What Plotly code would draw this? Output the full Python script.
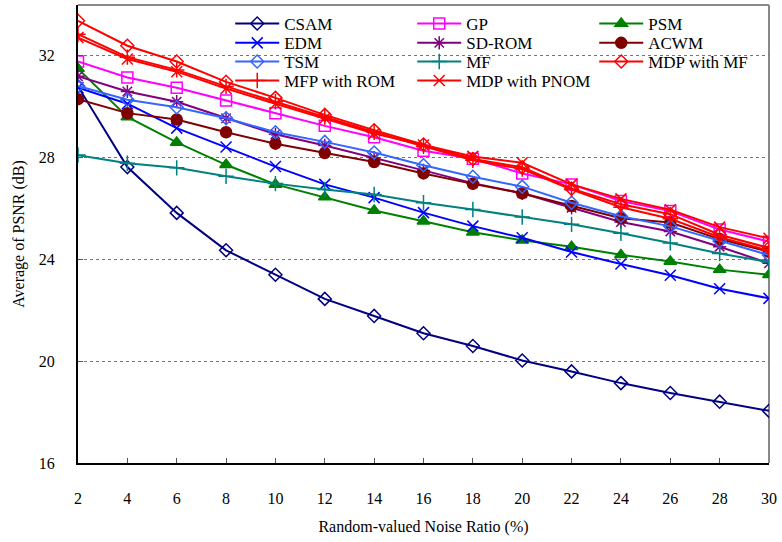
import plotly.graph_objects as go

noise_ratio = [2, 4, 6, 8, 10, 12, 14, 16, 18, 20, 22, 24, 26, 28, 30]

csam = [30.80, 27.63, 25.83, 24.36, 23.40, 22.45, 21.78, 21.10, 20.60, 20.03, 19.60, 19.14, 18.75, 18.41, 18.05]
edm = [30.75, 30.12, 29.16, 28.42, 27.65, 26.95, 26.43, 25.84, 25.31, 24.85, 24.29, 23.82, 23.38, 22.85, 22.47]
tsm = [30.82, 30.28, 29.98, 29.55, 29.00, 28.62, 28.20, 27.70, 27.25, 26.86, 26.23, 25.70, 25.30, 24.72, 24.17]
mfp_rom = [32.85, 31.95, 31.45, 30.80, 30.20, 29.60, 29.00, 28.45, 27.90, 27.55, 26.75, 26.05, 25.60, 24.87, 24.35]
gp = [31.78, 31.15, 30.75, 30.25, 29.75, 29.25, 28.80, 28.27, 27.96, 27.38, 26.95, 26.30, 25.90, 25.18, 24.70]
sd_rom = [31.20, 30.60, 30.20, 29.55, 28.92, 28.48, 28.00, 27.50, 27.00, 26.60, 26.03, 25.47, 25.10, 24.50, 23.85]
mf = [28.10, 27.78, 27.60, 27.27, 26.98, 26.75, 26.55, 26.23, 25.96, 25.67, 25.38, 25.03, 24.65, 24.23, 23.90]
mdp_pnom = [32.72, 31.88, 31.38, 30.72, 30.12, 29.55, 28.95, 28.50, 28.05, 27.80, 26.95, 26.38, 25.95, 25.27, 24.83]
psm = [31.50, 29.60, 28.60, 27.72, 26.95, 26.45, 25.92, 25.50, 25.07, 24.75, 24.50, 24.18, 23.92, 23.60, 23.40]
acwm = [30.30, 29.75, 29.50, 29.00, 28.55, 28.18, 27.83, 27.38, 26.97, 26.60, 26.10, 25.62, 25.45, 24.80, 24.30]
mdp_mf = [33.38, 32.40, 31.78, 30.98, 30.35, 29.68, 29.08, 28.52, 27.95, 27.62, 26.78, 26.17, 25.78, 24.97, 24.45]

y_ticks = [16, 20, 24, 28, 32]

# (name, values, colour, marker symbol, marker size, legend row)
series = [
    ("CSAM", csam, "#000080", "diamond-open", 10, "legend"),
    ("GP", gp, "#FF00FF", "square-open", 11, "legend"),
    ("PSM", psm, "#008000", "triangle-up", 11, "legend"),
    ("EDM", edm, "#0000FF", "x-thin-open", 11, "legend2"),
    ("SD-ROM", sd_rom, "#800080", "asterisk-open", 11, "legend2"),
    ("ACWM", acwm, "#800000", "circle", 11, "legend2"),
    ("TSM", tsm, "#3366FF", "diamond-open", 10, "legend3"),
    ("MF", mf, "#008080", "cross-thin-open", 11, "legend3"),
    ("MDP with MF", mdp_mf, "#FF0000", "diamond-open", 10, "legend3"),
    ("MFP with ROM", mfp_rom, "#FF0000", "cross-thin-open", 11, "legend4"),
    ("MDP with PNOM", mdp_pnom, "#FF0000", "x-thin-open", 11, "legend4"),
]

fig = go.Figure()
for name, vals, color, symbol, size, leg in series:
    fig.add_trace(go.Scatter(
        x=noise_ratio, y=vals, name=name, mode="lines+markers",
        line=dict(color=color, width=2),
        marker=dict(symbol=symbol, size=size, color=color,
                    line=dict(color=color, width=1.5)),
        legend=leg,
    ))

font_family = "Liberation Serif"

# plot area spans 5 px .. 463 px vertically; each legend row is one horizontal legend
plot_top, plot_h = 5, 458
row_centres = [24, 43.3, 62, 81]


def row_legend(yc):
    return dict(
        orientation="h", x=0.2203, y=1 - (yc - plot_top) / plot_h,
        xanchor="left", yanchor="middle",
        entrywidth=123, entrywidthmode="pixels", itemwidth=44,
        bgcolor="rgba(0,0,0,0)", font=dict(family=font_family, size=17),
        traceorder="normal",
    )


fig.update_layout(
    width=782, height=542,
    margin=dict(l=78, r=11, t=5, b=79),
    paper_bgcolor="white", plot_bgcolor="white",
    font=dict(family=font_family, size=16, color="black"),
    showlegend=True,
    legend=row_legend(row_centres[0]),
    legend2=row_legend(row_centres[1]),
    legend3=row_legend(row_centres[2]),
    legend4=row_legend(row_centres[3]),
    xaxis=dict(
        range=[2, 30], tickmode="array", tickvals=noise_ratio,
        ticks="inside", ticklen=5, tickcolor="#555555",
        ticklabelstandoff=20,
        showgrid=False, zeroline=False,
        showline=True, linecolor="black", linewidth=2,
        title=dict(text="Random-valued Noise Ratio (%)", standoff=15,
                   font=dict(family=font_family, size=16)),
        tickfont=dict(family=font_family, size=16),
    ),
    yaxis=dict(
        range=[16, 34], tickmode="array", tickvals=y_ticks,
        ticks="inside", ticklen=5, tickcolor="#555555",
        ticklabelstandoff=18,
        showgrid=True, gridcolor="#777777", gridwidth=1, griddash="dot",
        zeroline=False,
        showline=True, linecolor="black", linewidth=2,
        title=dict(text="Average of PSNR (dB)", standoff=10,
                   font=dict(family=font_family, size=16)),
        tickfont=dict(family=font_family, size=16),
    ),
)

# gray frame along the top and right of the plotting area
fig.add_shape(type="line", xref="paper", yref="paper", x0=0, x1=1, y0=1, y1=1,
              line=dict(color="#888888", width=2), layer="below")
fig.add_shape(type="line", xref="paper", yref="paper", x0=1, x1=1, y0=0, y1=1,
              line=dict(color="#888888", width=2), layer="below")

fig.write_html("out.html")
